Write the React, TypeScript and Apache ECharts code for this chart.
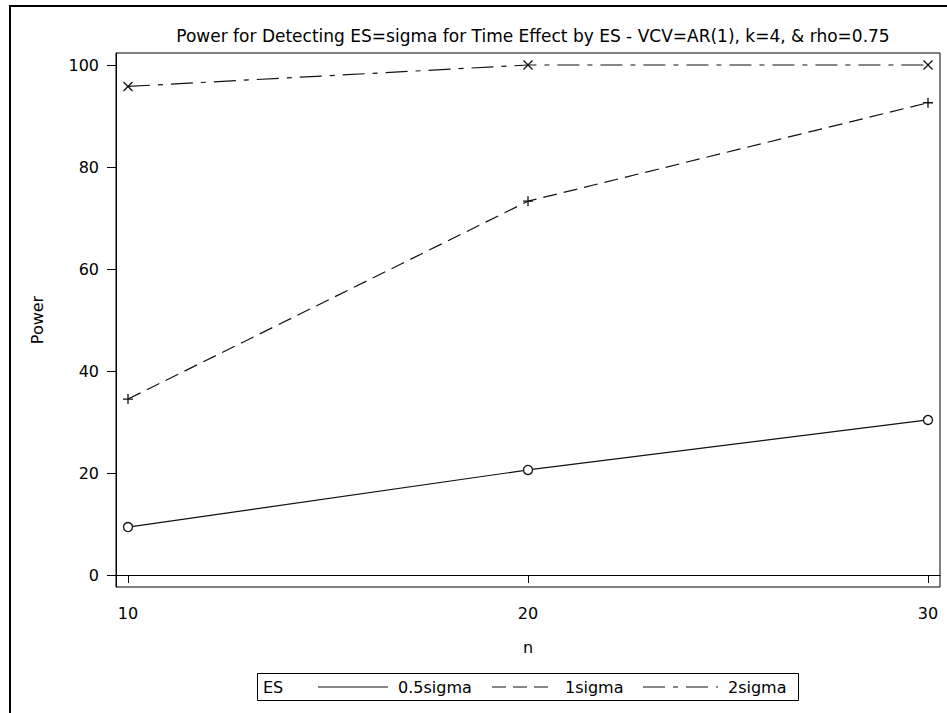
import React, { useEffect, useRef } from "react";
import * as echarts from "echarts";

const titleText = "Power for Detecting ES=sigma for Time Effect by ES - VCV=AR(1), k=4, & rho=0.75";
const nValues = [10, 20, 30];
const seriesNames = ["0.5sigma", "1sigma", "2sigma"];
const power05 = [9.4, 20.6, 30.4];
const power1 = [34.5, 73.3, 92.6];
const power2 = [95.8, 100, 100];
const xTicks = [10, 20, 30];
const yTicks = [0, 20, 40, 60, 80, 100];
const legendTitle = "ES";

const FONT = "DejaVu Sans";
const INK = "#000";

export default function App() {
  const ref = useRef<HTMLDivElement>(null);
  useEffect(() => {
    if (!ref.current) return;
    const chart = echarts.init(ref.current, null, { renderer: "svg" });
    const toPts = (vals: number[]) => nValues.map((n, i) => [n, vals[i]]);
    const plusPath = "path://M5,0L5,10M0,5L10,5";
    const xPath = "path://M0,0L10,10M10,0L0,10";
    const seriesDefs = [
      { name: seriesNames[0], vals: power05, symbol: "circle", size: 9, dash: "solid" as any },
      { name: seriesNames[1], vals: power1, symbol: plusPath, size: 10, dash: [14, 7] },
      { name: seriesNames[2], vals: power2, symbol: xPath, size: 9, dash: [22, 8, 5, 8] },
    ];
    const legY = 687;
    chart.setOption({
      animation: false,
      backgroundColor: "#fff",
      textStyle: { fontFamily: FONT, color: INK },
      title: {
        text: titleText,
        left: 528,
        top: 22,
        textAlign: "center",
        textStyle: { fontFamily: FONT, fontSize: 17, fontWeight: "normal", color: INK },
      },
      grid: {
        left: 116,
        top: 53,
        width: 824,
        height: 534,
        show: true,
        borderColor: INK,
        borderWidth: 1,
        containLabel: false,
      },
      xAxis: {
        type: "value",
        min: 9.7,
        max: 30.3,
        name: "n",
        nameLocation: "middle",
        nameGap: 52,
        nameTextStyle: { fontFamily: FONT, fontSize: 16, color: INK },
        axisLine: { show: true, lineStyle: { color: INK, width: 1 } },
        axisTick: { show: true, length: 8, customValues: xTicks, lineStyle: { color: INK } },
        axisLabel: { customValues: xTicks, margin: 18, fontFamily: FONT, fontSize: 16, color: INK },
        splitLine: { show: false },
      },
      yAxis: {
        type: "value",
        min: -12 / 5.1,
        max: 100 + 12 / 5.1,
        name: "Power",
        nameLocation: "middle",
        nameRotate: 90,
        nameGap: 71,
        nameTextStyle: { fontFamily: FONT, fontSize: 16, color: INK },
        axisLine: { show: true, lineStyle: { color: INK, width: 1 } },
        axisTick: { show: true, length: 9, customValues: yTicks, lineStyle: { color: INK } },
        axisLabel: { customValues: yTicks, margin: 17, fontFamily: FONT, fontSize: 16, color: INK },
        splitLine: { show: false },
      },
      series: seriesDefs.map((s) => ({
        name: s.name,
        type: "line",
        data: toPts(s.vals),
        symbol: s.symbol,
        symbolSize: s.size,
        showSymbol: true,
        lineStyle: { color: "#111", width: 1.2, type: s.dash },
        itemStyle: { color: s.symbol === "circle" ? "#fff" : "none", borderColor: "#111", borderWidth: 1.3 },
        emphasis: { disabled: true },
      })),
      graphic: [
        {
          type: "rect",
          z: -10,
          silent: true,
          shape: { x: 10, y: 6, width: 1000, height: 1000 },
          style: { fill: "none", stroke: INK, lineWidth: 2 },
        },
        {
          type: "rect",
          shape: { x: 257.5, y: 673.5, width: 541, height: 27 },
          style: { fill: "#fff", stroke: INK, lineWidth: 1 },
        },
        { type: "text", x: 263, y: legY, style: { text: legendTitle, font: `16px '${FONT}'`, fill: INK, textVerticalAlign: "middle" } },
        { type: "line", shape: { x1: 318, y1: legY, x2: 388, y2: legY }, style: { stroke: "#111", lineWidth: 1.2 } },
        { type: "text", x: 398, y: legY, style: { text: seriesNames[0], font: `16px '${FONT}'`, fill: INK, textVerticalAlign: "middle" } },
        { type: "line", shape: { x1: 492, y1: legY, x2: 555, y2: legY }, style: { stroke: "#111", lineWidth: 1.2, lineDash: [14, 7] } },
        { type: "text", x: 565, y: legY, style: { text: seriesNames[1], font: `16px '${FONT}'`, fill: INK, textVerticalAlign: "middle" } },
        { type: "line", shape: { x1: 643, y1: legY, x2: 718, y2: legY }, style: { stroke: "#111", lineWidth: 1.2, lineDash: [22, 8, 5, 8] } },
        { type: "text", x: 728, y: legY, style: { text: seriesNames[2], font: `16px '${FONT}'`, fill: INK, textVerticalAlign: "middle" } },
      ],
    });
    return () => chart.dispose();
  }, []);
  return (
    <div
      ref={ref}
      style={{ position: "absolute", left: 0, top: 0, width: 947, height: 713, background: "#fff" }}
    />
  );
}
